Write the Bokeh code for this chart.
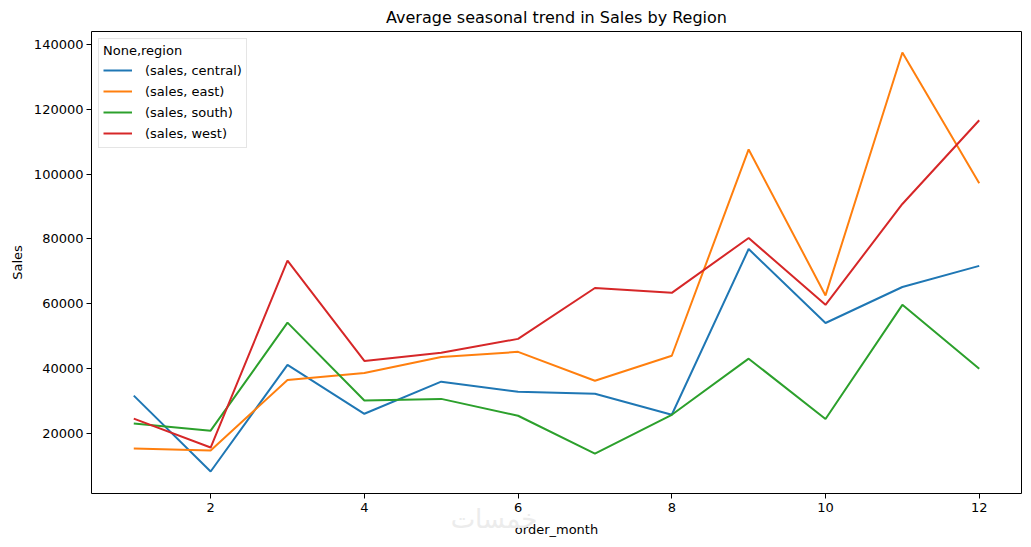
from bokeh.plotting import figure
from bokeh.models import Range1d, SingleIntervalTicker, BasicTickFormatter, Legend, LegendItem, Div
from bokeh.layouts import column
from bokeh.embed import file_html
from bokeh.resources import INLINE

months = [1, 2, 3, 4, 5, 6, 7, 8, 9, 10, 11, 12]
central = [31700, 8300, 41200, 26100, 36000, 32900, 32300, 25800, 76900, 54100, 65200, 71700]
east = [15400, 14800, 36500, 38700, 43600, 45200, 36300, 44000, 107600, 62600, 137500, 97200]
south = [23100, 20900, 54200, 30200, 30700, 25500, 13800, 25800, 43100, 24500, 59700, 40000]
west = [24600, 15700, 73300, 42400, 44900, 49200, 64900, 63400, 80300, 59700, 90800, 116600]
series_names = ["(sales, central)", "(sales, east)", "(sales, south)", "(sales, west)"]
colors = ["#1f77b4", "#ff7f0e", "#2ca02c", "#d62728"]
watermark = "خمسات"

FONT = "DejaVu Sans"

p = figure(frame_width=930, frame_height=462, output_backend="svg", toolbar_location=None,
           x_range=Range1d(0.45, 12.55), y_range=Range1d(1525, 143975),
           min_border_left=91, min_border_right=2, min_border_top=25, min_border_bottom=46,
           title="Average seasonal trend in Sales by Region")

p.title.text_font = FONT
p.title.text_font_size = "16px"
p.title.text_font_style = "normal"
p.title.align = "center"
p.title.text_color = "black"

p.xgrid.visible = False
p.ygrid.visible = False
p.outline_line_color = "black"
p.outline_line_width = 1
p.outline_line_alpha = 1

p.xaxis.ticker = SingleIntervalTicker(interval=2)
p.yaxis.ticker = SingleIntervalTicker(interval=20000)
p.yaxis.formatter = BasicTickFormatter(use_scientific=False)
p.xaxis.axis_label = "order_month"
p.yaxis.axis_label = "Sales"
for ax in (p.xaxis, p.yaxis):
    ax.axis_line_color = None
    ax.minor_tick_line_color = None
    ax.major_tick_out = 5
    ax.major_tick_in = 0
    ax.major_tick_line_color = "black"
    ax.major_label_text_font = FONT
    ax.major_label_text_font_size = "13px"
    ax.major_label_text_color = "black"
    ax.axis_label_text_font = FONT
    ax.axis_label_text_font_size = "13px"
    ax.axis_label_text_font_style = "normal"
    ax.axis_label_text_color = "black"
p.yaxis.major_label_standoff = 3
p.xaxis.major_label_standoff = 4
p.xaxis.axis_label_standoff = 7
p.yaxis.axis_label_standoff = 6

items = []
for name, vals, c in zip(series_names, [central, east, south, west], colors):
    r = p.line(months, vals, line_color=c, line_width=2)
    items.append(LegendItem(label=name, renderers=[r]))

legend = Legend(items=items, location="top_left", title="None,region")
legend.margin = 7
legend.padding = 4
legend.spacing = 1
legend.glyph_width = 29
legend.glyph_height = 20
legend.label_height = 20
legend.label_standoff = 13
legend.label_text_font = FONT
legend.label_text_font_size = "13px"
legend.label_text_color = "black"
legend.title_text_font = FONT
legend.title_text_font_size = "13px"
legend.title_text_font_style = "normal"
legend.title_text_color = "black"
legend.title_standoff = 2
legend.border_line_color = "#cccccc"
legend.border_line_width = 1
legend.background_fill_alpha = 0.8
p.add_layout(legend, "center")

wm = Div(text=watermark, width=100, height=30, margin=(-35, 0, 0, 444),
         styles={"font-family": FONT, "font-size": "26px", "color": "#ececec",
                 "text-align": "center", "line-height": "30px", "pointer-events": "none"})

layout = column(p, wm, spacing=0)

open("out.html", "w").write(file_html(layout, INLINE))
